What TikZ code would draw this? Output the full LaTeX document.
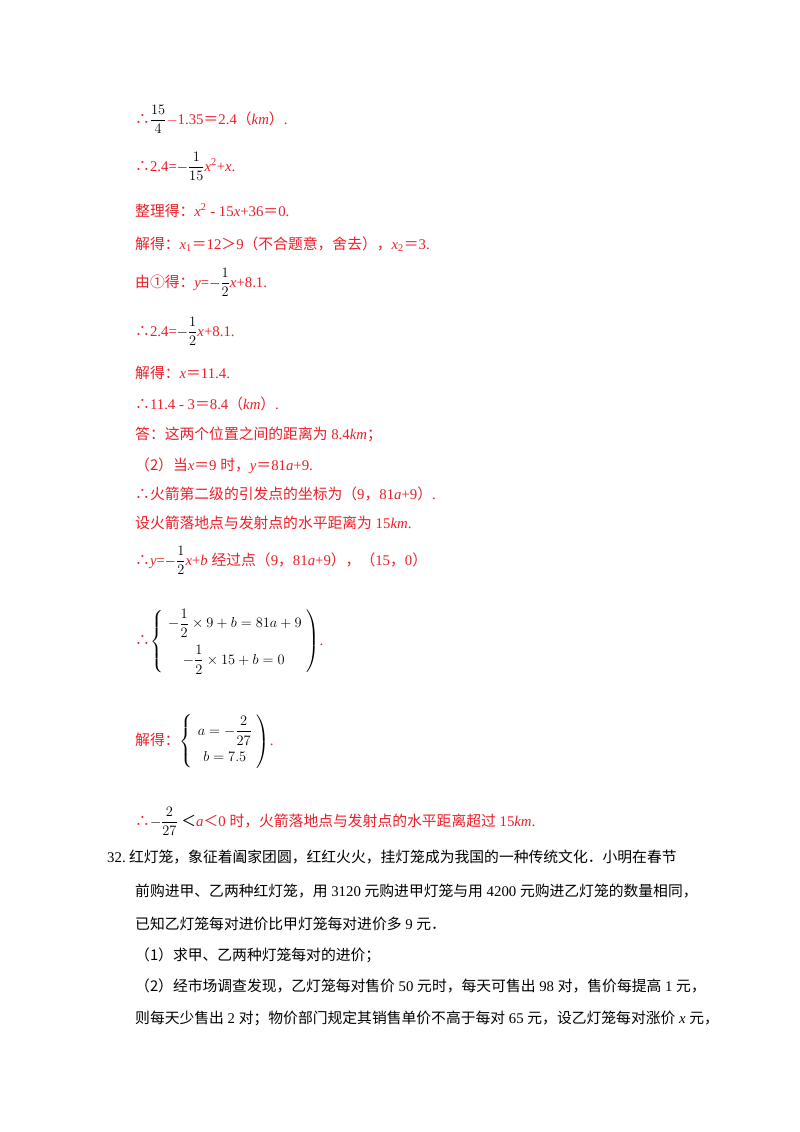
\documentclass[tikz,border=0pt]{standalone}
\usepackage{amsmath,amssymb}
\usepackage{fontspec}
\setmainfont{Liberation Serif}
\newfontfamily\cjk{Noto Sans CJK SC}
\definecolor{ans}{RGB}{235,30,40}
\newcommand{\zh}[1]{{\cjk #1}}
\newcommand{\tf}{{\cjk ∴}}
\begin{document}
\begin{tikzpicture}[x=1pt,y=-1pt,
  ln/.style={anchor=base west,inner sep=0pt,font=\fontsize{14.8}{18}\selectfont,text=ans},
  bk/.style={anchor=base west,inner sep=0pt,font=\fontsize{14.8}{18}\selectfont,text=black}]
\useasboundingbox (0,0) rectangle (800,1132);
\node[ln] (l1) at (135,124) {\tf\textcolor{black}{$\dfrac{15}{4}$}$-$1.35\zh{＝}2.4\zh{（}\textit{km}\zh{）}.};
\node[ln] (l2) at (135,171) {\tf 2.4=\textcolor{black}{$-\dfrac{1}{15}$}\textit{x}\textsuperscript{2}+\textit{x}.};
\node[ln] (l3) at (135,216) {\zh{整理得：}\textit{x}\textsuperscript{2} - 15\textit{x}+36\zh{＝}0.};
\node[ln] (l4) at (135,249) {\zh{解得：}\textit{x}\textsubscript{1}\zh{＝}12\zh{＞}9\zh{（不合题意，舍去）}\zh{，}\textit{x}\textsubscript{2}\zh{＝}3.};
\node[ln] (l5) at (135,287) {\zh{由①得：}\textit{y}=\textcolor{black}{$-\dfrac{1}{2}$}\textit{x}+8.1.};
\node[ln] (l6) at (135,336) {\tf 2.4=\textcolor{black}{$-\dfrac{1}{2}$}\textit{x}+8.1.};
\node[ln] (l7) at (135,378) {\zh{解得：}\textit{x}\zh{＝}11.4.};
\node[ln] (l8) at (135,409) {\tf 11.4 - 3\zh{＝}8.4\zh{（}\textit{km}\zh{）}.};
\node[ln] (l9) at (135,439) {\zh{答：这两个位置之间的距离为} 8.4\textit{km}\zh{；}};
\node[ln] (l10) at (135,470) {\zh{（2）当}\textit{x}\zh{＝}9 \zh{时，}\textit{y}\zh{＝}81\textit{a}+9.};
\node[ln] (l11) at (135,499) {\tf\zh{火箭第二级的引发点的坐标为（}9\zh{，}81\textit{a}+9\zh{）}.};
\node[ln] (l12) at (135,528) {\zh{设火箭落地点与发射点的水平距离为} 15\textit{km}.};
\node[ln] (l13) at (135,565) {\tf\textit{y}=\textcolor{black}{$-\dfrac{1}{2}$}\textit{x}+\textit{b} \zh{经过点（}9\zh{，}81\textit{a}+9\zh{）}\zh{，（}15\zh{，}0\zh{）}};
\node[ln] (l14) at (135,645) {\tf\textcolor{black}{$\left\{\begin{array}{l}-\dfrac{1}{2}\times 9+b=81a+9\\[12pt] \quad-\dfrac{1}{2}\times 15+b=0\end{array}\right)$}.};
\node[ln] (l15) at (135,745) {\zh{解得：}\textcolor{black}{$\left\{\begin{array}{c}a=-\dfrac{2}{27}\\[8pt] b=7.5\end{array}\right)$}.};
\node[ln] (l16) at (135,826) {\tf\textcolor{black}{$-\dfrac{2}{27}$ \zh{＜}}\textit{a}\zh{＜}0 \zh{时，火箭落地点与发射点的水平距离超过} 15\textit{km}.};
\node[bk] (p1) at (107,862) {32.\zh{\ 红灯笼，象征着阖家团圆，红红火火，挂灯笼成为我国的一种传统文化．小明在春节}};
\node[bk] (p2) at (135,896) {\zh{前购进甲、乙两种红灯笼，用} 3120 \zh{元购进甲灯笼与用} 4200 \zh{元购进乙灯笼的数量相同，}};
\node[bk] (p3) at (135,929) {\zh{已知乙灯笼每对进价比甲灯笼每对进价多} 9 \zh{元．}};
\node[bk] (p4) at (135,960) {\zh{（1）求甲、乙两种灯笼每对的进价；}};
\node[bk] (p5) at (135,991) {\zh{（2）经市场调查发现，乙灯笼每对售价} 50 \zh{元时，每天可售出} 98 \zh{对，售价每提高} 1 \zh{元，}};
\node[bk] (p6) at (135,1023) {\zh{则每天少售出} 2 \zh{对；物价部门规定其销售单价不高于每对} 65 \zh{元，设乙灯笼每对涨价} \textit{x} \zh{元，}};
\end{tikzpicture}
\end{document}
